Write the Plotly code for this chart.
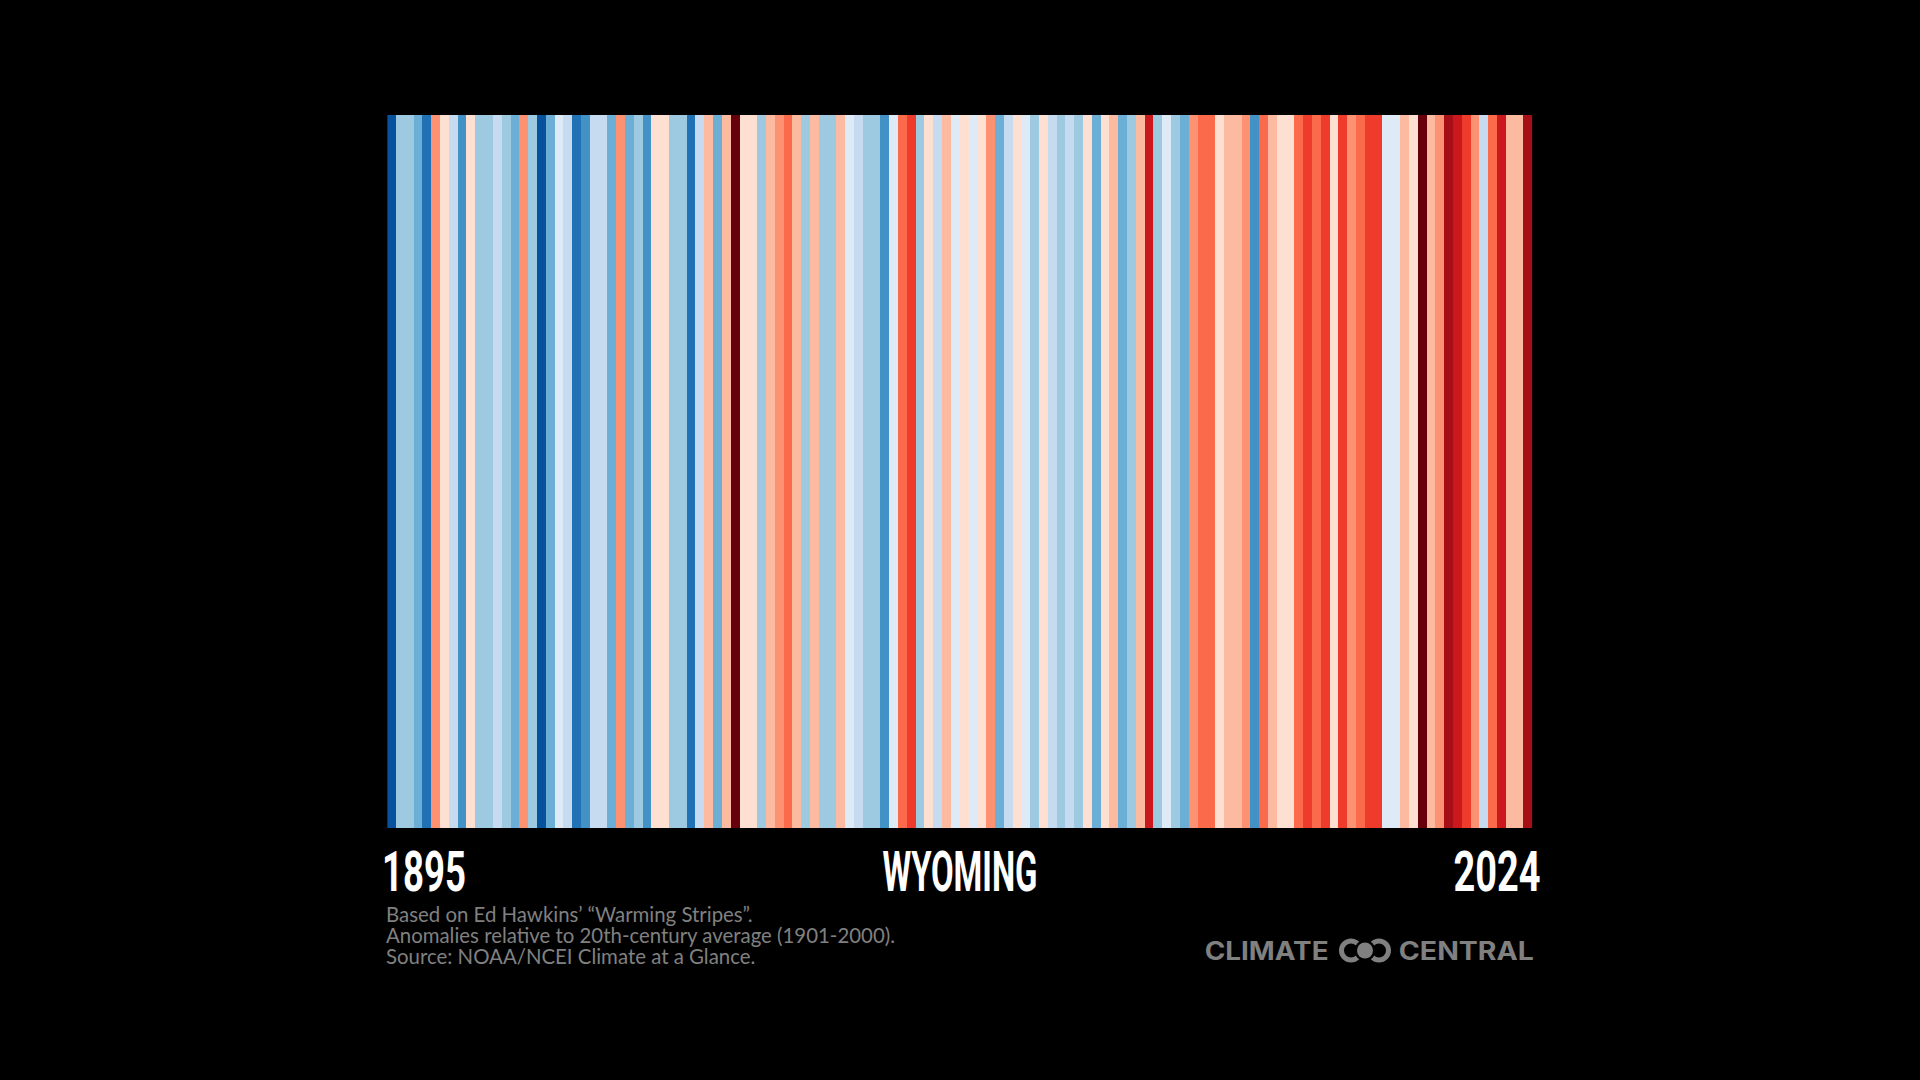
import plotly.graph_objects as go

years = list(range(1895, 2025))
# Colour level of every annual stripe (0 coldest ... 15 warmest)
levels = [
    1, 5, 5, 4, 2, 10, 8, 6, 3, 8, 5, 5, 6, 5, 4, 10, 5, 1, 4, 7, 6, 2, 3, 6, 6, 4, 10, 4, 5, 3, 8, 8,
    5, 5, 2, 6, 9, 4, 9, 15, 8, 8, 5, 9, 10, 11, 9, 5, 9, 5, 5, 9, 7, 6, 5, 5, 3, 7, 11, 12, 5, 8, 6, 9, 7,
    8, 7, 8, 10, 4, 6, 8, 7, 5, 8, 6, 5, 6, 5, 8, 4, 8, 9, 4, 5, 9, 13, 5, 7, 5, 4, 10, 11, 11, 8, 9, 9, 10,
    3, 11, 9, 8, 8, 11, 12, 11, 12, 8, 12, 10, 11, 12, 12, 7, 7, 9, 8, 15, 9, 10, 14, 13, 12, 10, 6, 11, 13, 9, 9, 14,
]
palette = ["#08306b", "#08519c", "#2171b5", "#4292c6", "#6baed6", "#9ecae1", "#c6dbef", "#deebf7",
           "#fee0d2", "#fcbba1", "#fc9272", "#fb6a4a", "#ef3b2c", "#cb181d", "#a50f15", "#67000d"]
start_label, end_label = "1895", "2024"
state = "WYOMING"
notes = ["Based on Ed Hawkins\u2019 \u201cWarming Stripes\u201d.",
         "Anomalies relative to 20th-century average (1901-2000).",
         "Source: NOAA/NCEI Climate at a Glance."]

W, H = 1920, 1080
n = len(palette)
scale = []
for i, c in enumerate(palette):
    scale += [[i / n, c], [(i + 1) / n, c]]

fig = go.Figure(go.Heatmap(x=years, y=[0], z=[levels], zmin=-0.5, zmax=n - 0.5, colorscale=scale,
                           showscale=False, xgap=0, hoverinfo="skip"))
# invisible trace on the full-page overlay axes
fig.add_trace(go.Scatter(x=[0], y=[0], xaxis="x2", yaxis="y2", mode="markers", marker_opacity=0,
                         showlegend=False, hoverinfo="skip"))

GREY = "#808080"
ann = []
def label(text, x, y, size, anchor, color="#ffffff", family="Roboto", bold=True):
    ann.append(dict(text=f"<b>{text}</b>" if bold else text, x=x, y=y, xref="x2", yref="y2", showarrow=False,
                    xanchor=anchor, yanchor="middle", font=dict(family=family, size=size, color=color)))

label(start_label, 424, 872, 55, "center")
label(state, 960, 872, 55, "center")
label(end_label, 1497, 872, 55, "center")
for t, y in zip(notes, [914, 935, 956]):
    label(t, 384, y, 20.4, "left", color=GREY, family="Lato", bold=False)
label("CLIMATE", 1266, 951, 25, "center", color=GREY, family="Inter")
label("CENTRAL", 1466.5, 951, 25, "center", color=GREY, family="Inter")

def circle(cx, cy, r, fill, line=None, lw=0):
    return dict(type="circle", xref="x2", yref="y2", x0=cx - r, x1=cx + r, y0=cy - r, y1=cy + r,
                fillcolor=fill, line=dict(color=line or fill, width=lw))

shapes = [circle(1351, 950.5, 9.5, "rgba(0,0,0,0)", GREY, 5),
          circle(1379, 950.5, 9.5, "rgba(0,0,0,0)", GREY, 5),
          circle(1365, 950.5, 10.5, "#000000"),
          circle(1365, 950.5, 8, GREY)]

fig.update_layout(
    width=W, height=H, autosize=False, margin=dict(l=0, r=0, t=0, b=0),
    paper_bgcolor="#000000", plot_bgcolor="rgba(0,0,0,0)", showlegend=False,
    xaxis=dict(domain=[387.2 / W, 1532.5 / W], visible=False, range=[years[0] - 0.5, years[-1] + 0.5]),
    yaxis=dict(domain=[1 - 828 / H, 1 - 115 / H], visible=False, range=[-0.5, 0.5]),
    xaxis2=dict(domain=[0, 1], range=[0, W], visible=False, anchor="y2"),
    yaxis2=dict(domain=[0, 1], range=[H, 0], visible=False, anchor="x2"),
    annotations=ann, shapes=shapes,
)

post = """
document.documentElement.style.margin='0';document.body.style.margin='0';document.body.style.background='#000';
document.documentElement.style.overflow='hidden';
var fit={'1895':84,'WYOMING':155,'2024':87,'CLIMATE':124,'CENTRAL':135};
document.querySelectorAll('.annotation-text').forEach(function(t){
  var w=fit[t.textContent];
  if(w){t.setAttribute('textLength',w);t.setAttribute('lengthAdjust','spacingAndGlyphs');
        t.querySelectorAll('*').forEach(function(s){s.setAttribute('textLength',w);s.setAttribute('lengthAdjust','spacingAndGlyphs');});}
});
"""
fig.write_html("out.html", post_script=post, config={"displayModeBar": False})
